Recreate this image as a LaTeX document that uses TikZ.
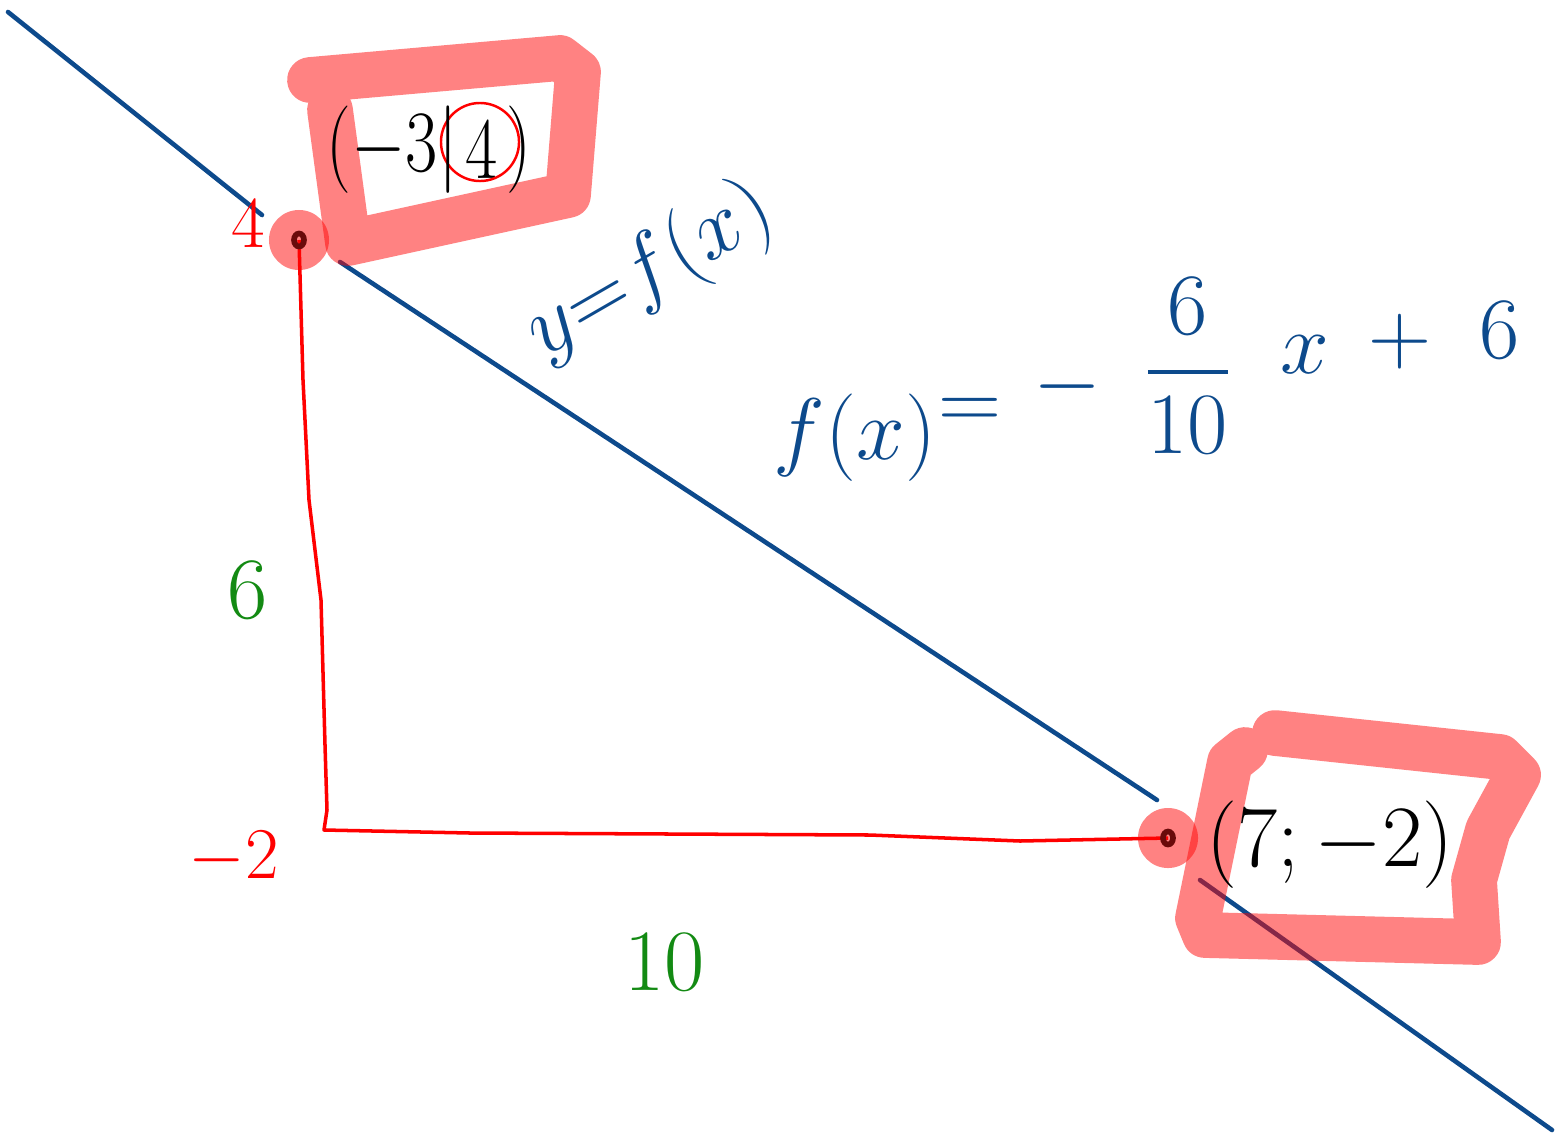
\documentclass[tikz,border=0pt]{standalone}
\usepackage{amsmath}
\usepackage{graphicx}
\usetikzlibrary{shapes.geometric}
\definecolor{inkblue}{HTML}{0D4A8C}
\definecolor{inkgreen}{HTML}{138A13}
\definecolor{inkred}{HTML}{FF0000}
\definecolor{hlred}{HTML}{FF0505}
\definecolor{dotink}{HTML}{6A0A0A}
\begin{document}
\begin{tikzpicture}[x=0.01cm,y=-0.01cm,
  bline/.style={inkblue,line width=1.3pt,line cap=round,line join=round},
  rline/.style={inkred,line width=1pt,line join=round},
  hlbox/.style={hlred,opacity=0.5,line width=13pt,line cap=round,line join=round},
  hldot/.style={circle,fill=hlred,fill opacity=0.5,minimum size=0.6cm,inner sep=0pt},
  ptmark/.style={ellipse,draw=dotink,line width=1.6pt,minimum width=0.1cm,minimum height=0.13cm,inner sep=0pt},
  lab/.style={font=\fontsize{30}{32}\selectfont},
  midlab/.style={font=\fontsize{25}{27}\selectfont},
  smalllab/.style={font=\fontsize{21}{23}\selectfont},
  biglab/.style={font=\fontsize{29}{31}\selectfont}]
\useasboundingbox (0,0) rectangle (1555,1133);
% coordinates of the two points
\coordinate (A) at (299,240);
\coordinate (B) at (1168,838);
\coordinate (C) at (324,830);
% blue line
\coordinate (L0) at (8,12);
\coordinate (L1) at (262,215);
\coordinate (L2) at (340,262);
\coordinate (L3) at (1157,800);
\coordinate (L4) at (1200,880);
\coordinate (L5) at (1552,1130);
\draw[bline] (L0) -- (L1);
\draw[bline] (L2) -- (L3);
\draw[bline] (L4) -- (L5);
% red right angle
\draw[rline] (A) -- (303,380) -- (309,500) -- (321,600) -- (325,745) -- (327,810) -- (C)
  -- (470,833) -- (870,835) -- (1020,841) -- (B);
% highlight boxes
\draw[hlbox] (310,80) -- (560,58) -- (578,72) -- (568,195) -- (348,243) -- (330,110);
\draw[hlbox] (1275,733) -- (1500,757) -- (1518,775) -- (1488,830) -- (1474,880) -- (1478,942)
  -- (1205,935) -- (1198,918) -- (1230,762) -- (1245,750);
% point highlights
\node[hldot] (Ad) at (A) {};
\node[hldot] (Bd) at (B) {};
\node[ptmark] (Am) at (A) {};
\node[ptmark] (Bm) at (B) {};
% point labels
\node[midlab,inner sep=1pt] (n4) at (482,150) {\scalebox{0.8}[1]{$4$}};
\node[draw=inkred,circle,line width=0.7pt,minimum size=0.78cm] (c4) at (480,142) {};
\node[midlab,anchor=east,inner sep=1pt] (p1) at (n4.west) {\scalebox{0.8}[1]{$(-3|$}};
\node[midlab,anchor=west,inner sep=1pt] (p2) at (n4.east) {\scalebox{0.8}[1]{$)$}};
\node[lab] (p3) at (1330,845) {$(7;-2)$};
% axis values
\node[smalllab,inkred] (y4) at (248,224) {$4$};
\node[smalllab,inkred] (ym2) at (234,858) {$-2$};
\node[lab,inkgreen] (d6) at (248,590) {$6$};
\node[lab,inkgreen] (d10) at (665,962) {$10$};
% function labels
\node[midlab,inkblue,rotate=30] (yf) at (650,272) {$y{=}f(x)$};
\node[biglab,inkblue] (fx) at (855,438) {$f(x)$};
\node[lab,inkblue] (eq) at (970,414) {$=$};
\node[lab,inkblue] (mi) at (1068,387) {$-$};
\node[lab,inkblue] (fr) at (1188,366) {$\dfrac{6}{10}$};
\node[lab,inkblue] (xx) at (1305,355) {$x$};
\node[lab,inkblue] (pl) at (1400,342) {$+$};
\node[lab,inkblue] (six) at (1500,330) {$6$};
\end{tikzpicture}
\end{document}
